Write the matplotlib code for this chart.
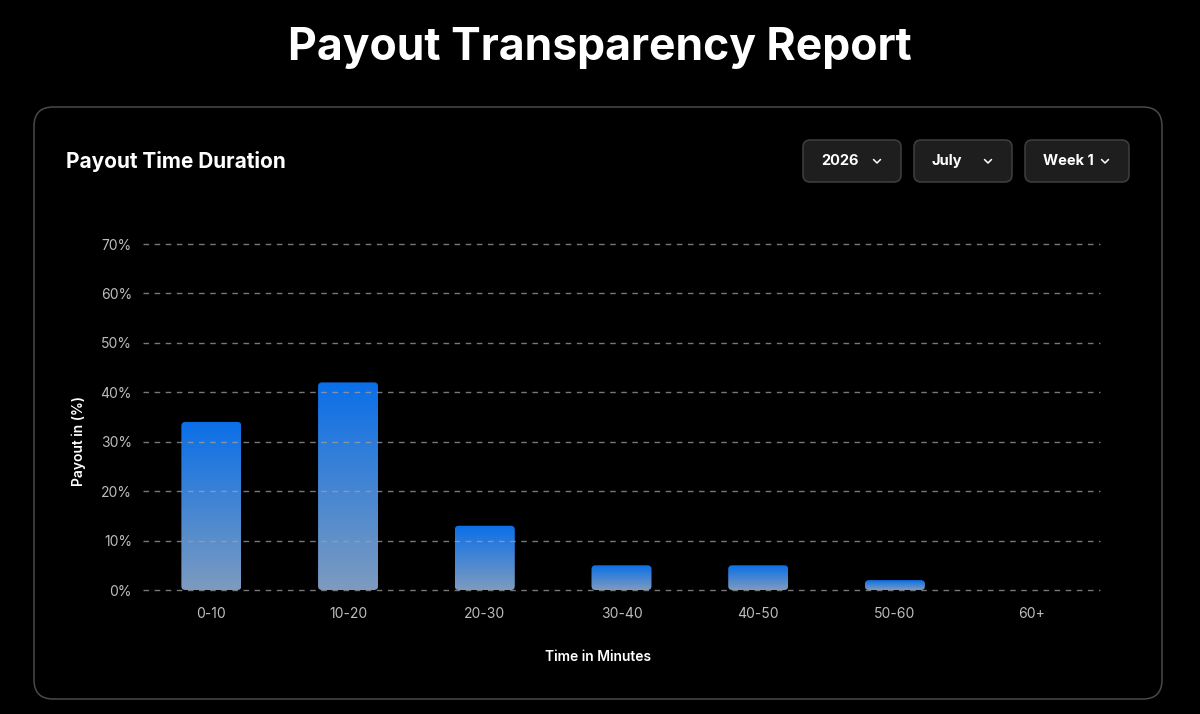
import numpy as np
import matplotlib
matplotlib.use("Agg")
import matplotlib.pyplot as plt
from matplotlib.patches import FancyBboxPatch
from matplotlib.lines import Line2D
from matplotlib.colors import LinearSegmentedColormap

plt.rcParams['font.family'] = ['Inter', 'DejaVu Sans']

# ── data ──────────────────────────────────────────────────────
categories = ["0-10", "10-20", "20-30", "30-40", "40-50", "50-60", "60+"]
payout_pct = [34, 42, 13, 5, 5, 2, 0]
y_ticks = [0, 10, 20, 30, 40, 50, 60, 70]
dropdowns = ["2026", "July", "Week 1"]

W, H = 1200, 714
BG = "#000000"

fig = plt.figure(figsize=(W / 100, H / 100), dpi=100, facecolor=BG)

def fx(px):
    return px / W

def fy(py):
    return 1 - py / H

# page title
fig.text(0.5, fy(48), "Payout Transparency Report", ha="center", va="center",
         color="white", fontsize=32, fontweight="bold")

# card
card = FancyBboxPatch((fx(34), fy(699)), fx(1162) - fx(34), fy(107) - fy(699),
                      boxstyle="round,pad=0,rounding_size=0.016",
                      mutation_aspect=W / H,
                      transform=fig.transFigure, facecolor="none",
                      edgecolor="#4a4a4a", linewidth=1.1, zorder=-1)
fig.patches.append(card)

fig.text(fx(66), fy(161), "Payout Time Duration", ha="left", va="center",
         color="white", fontsize=15, fontweight="bold")

# dropdown boxes
boxes = [(803, 901), (914, 1012), (1025, 1129)]
for (x0, x1), label in zip(boxes, dropdowns):
    b = FancyBboxPatch((fx(x0), fy(182)), fx(x1) - fx(x0), fy(140) - fy(182),
                       boxstyle="round,pad=0,rounding_size=0.006",
                       mutation_aspect=W / H,
                       transform=fig.transFigure, facecolor="#1e1e1e",
                       edgecolor="#3c3c3c", linewidth=1.2)
    fig.patches.append(b)
    fig.text(fx(x0 + 18), fy(161), label, ha="left", va="center",
             color="white", fontsize=10.5, fontweight="bold")
    cx = x1 - 24
    fig.add_artist(Line2D([fx(cx - 3.5), fx(cx), fx(cx + 3.5)],
                          [fy(159.5), fy(163), fy(159.5)],
                          transform=fig.transFigure, color="white",
                          linewidth=1.1, solid_capstyle="round"))

# ── chart ─────────────────────────────────────────────────────
ax = fig.add_axes([fx(143), fy(590), fx(1100) - fx(143), fy(244) - fy(590)])
ax.set_facecolor("none")
x = np.arange(len(categories))
ax.set_xlim(-0.5, len(categories) - 0.5)
ax.set_ylim(0, 70)

px_per_x = (1100 - 143) / len(categories)
px_per_y = (590 - 244) / 70
aspect = px_per_x / px_per_y
bar_w = 60 / px_per_x
radius = 4 / px_per_x

cmap = LinearSegmentedColormap.from_list("bar", ["#7d9bbf", "#0a6fe8"])
grad = np.linspace(0, 1, 256).reshape(-1, 1)

for xi, v in zip(x, payout_pct):
    if v <= 0:
        continue
    x0 = xi - bar_w / 2
    clip = FancyBboxPatch((x0, 0), bar_w, v,
                          boxstyle=f"round,pad=0,rounding_size={radius}",
                          mutation_aspect=aspect,
                          facecolor="none", edgecolor="none",
                          transform=ax.transData)
    ax.add_patch(clip)
    im = ax.imshow(grad, cmap=cmap, origin="lower", aspect="auto",
                   extent=(x0, x0 + bar_w, 0, v), zorder=2,
                   interpolation="bilinear")
    im.set_clip_path(clip)

ax.set_xlim(-0.5, len(categories) - 0.5)
ax.set_ylim(0, 70)

for t in y_ticks:
    ax.axhline(t, color="#a0a0a0", linestyle=(0, (4, 4)), linewidth=1,
               alpha=0.75, zorder=3, clip_on=False)

ax.set_xticks(x)
ax.set_xticklabels(categories)
ax.set_yticks(y_ticks)
ax.set_yticklabels([f"{t}%" for t in y_ticks])
ax.tick_params(length=0, colors="#bdbdbd", labelsize=10)
ax.tick_params(axis="x", pad=12)
ax.tick_params(axis="y", pad=8)
for s in ax.spines.values():
    s.set_visible(False)

fig.text(fx(79), fy(441), "Payout in (%)", rotation=90, ha="center",
         va="center", color="white", fontsize=10, fontweight="semibold")
fig.text(fx(598), fy(657), "Time in Minutes", ha="center",
         va="center", color="white", fontsize=10, fontweight="semibold")

fig.savefig("out.png", dpi=100, facecolor=BG)
